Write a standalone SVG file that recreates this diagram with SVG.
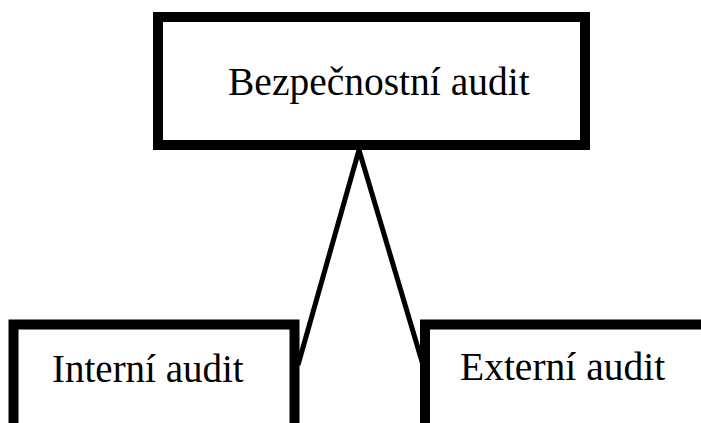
<svg xmlns="http://www.w3.org/2000/svg" width="701" height="423" viewBox="0 0 701 423">
<style>
.box{fill:#fff;stroke:#000;stroke-width:10}
.lbl{font-family:"Liberation Serif","Times New Roman",serif;fill:#000}
.con{stroke:#000;stroke-width:5;fill:none}
</style>
<rect width="701" height="423" fill="#fff"/>
<g id="connectors">
<line class="con" x1="359" y1="150" x2="298" y2="365"/>
<line class="con" x1="359" y1="150" x2="423" y2="365"/>
</g>
<g id="node-top">
<rect class="box" x="158" y="17" width="427" height="128"/>
<text class="lbl" x="228" y="95" font-size="39.5">Bezpečnostní audit</text>
</g>
<g id="node-internal">
<rect class="box" x="13.5" y="324.5" width="281" height="130"/>
<text class="lbl" x="52" y="382" font-size="39">Interní audit</text>
</g>
<g id="node-external">
<rect class="box" x="425" y="324.5" width="320" height="130"/>
<text class="lbl" x="460" y="380" font-size="39.5">Externí audit</text>
</g>
</svg>
